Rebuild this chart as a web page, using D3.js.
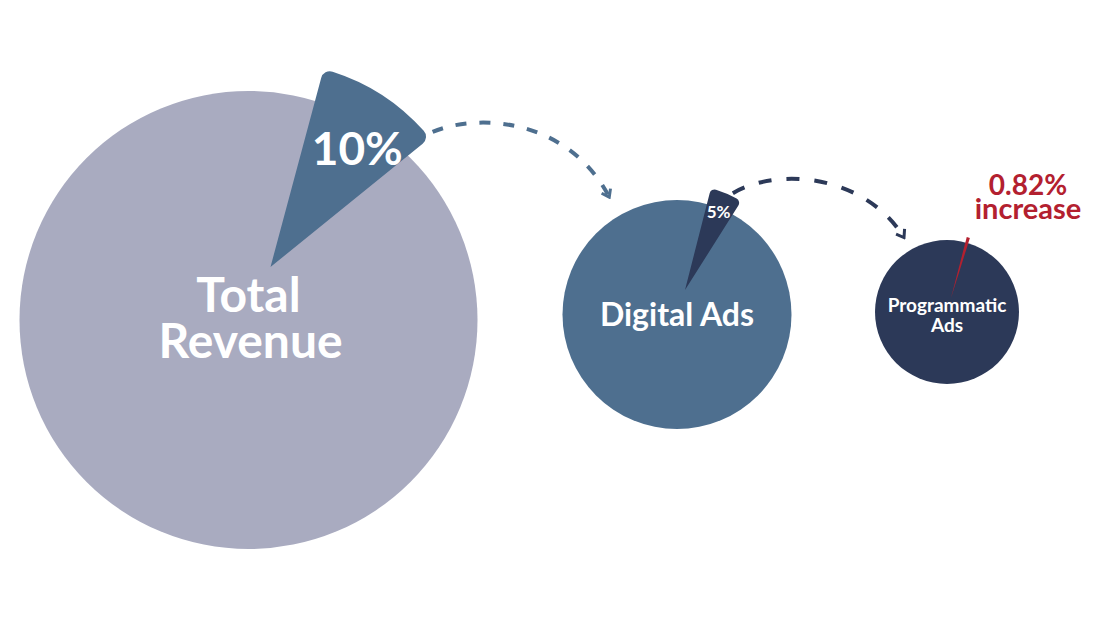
<!DOCTYPE html>
<html>
<head>
<meta charset="utf-8">
<script src="https://cdn.jsdelivr.net/npm/d3@7"></script>
<style>
  body { margin: 0; background: #fff; }
  text { font-family: Lato, "Open Sans", sans-serif; font-weight: 700; }
</style>
</head>
<body>
<div class="chart"></div>
<script>
// data
var levels = ["Total Revenue", "Digital Ads", "Programmatic Ads"]
var levelLines = [["Total", "Revenue"], ["Digital Ads"], ["Programmatic", "Ads"]]
var shareValues = [10, 5, 0.82]
var shareLabels = ["10%", "5%", ""]
var noteLines = ["0.82%", "increase"]

// layout (not data)
var W = 1097, H = 617
var layout = [
  {cx: 248.5, cy: 320, r: 229, sliceR: 205, tip: [22, -53], start: 15, corner: 9,
   font: 48, lineH: 46, base: -8, labelFont: 46, labelPos: 0.72, labelTurn: 3,
   arrowA: 50.2, arrowR: 211, lift: [20, 12]},
  {cx: 677, cy: 314.5, r: 114.5, sliceR: 105, tip: [8, -24.5], start: 14.3, corner: 5,
   font: 32, lineH: 0, base: 11.5, labelFont: 17, labelPos: 0.81, labelTurn: 0,
   arrowA: 26.3, arrowR: 108, lift: [27, 18]},
  {cx: 947, cy: 312, r: 72, sliceR: 63, tip: [4, -14], start: 14.5, corner: 0,
   font: 19, lineH: 20, base: 0, labelFont: 0, labelPos: 0, labelTurn: 0}
]
var circleColors = ["#a9abc0", "#4e6f8f", "#2c3958"]
var sliceColors = ["#4e6f8f", "#2c3958", "#b3202f"]
var rad = function(deg) { return deg * Math.PI / 180 }

var svg = d3.select('.chart')
  .append('svg')
  .attr('width', W)
  .attr('height', H)
  .style('background', '#fff')

var defs = svg.append('defs')
sliceColors.slice(0, 2).forEach(function(c, i) {
  defs.append('marker')
    .attr('id', 'head' + i)
    .attr('markerUnits', 'userSpaceOnUse')
    .attr('viewBox', '-10 -7 12 14')
    .attr('markerWidth', 12)
    .attr('markerHeight', 14)
    .attr('orient', 'auto')
    .append('path')
    .attr('d', 'M-7,-5 L0,0 L-7,5')
    .attr('fill', 'none')
    .attr('stroke', c)
    .attr('stroke-width', 3)
})

var pies = shareValues.map(function(v, i) {
  var a0 = rad(layout[i].start)
  return d3.pie().sort(null).value(function(d) { return d })
    .startAngle(a0).endAngle(a0 + 2 * Math.PI)([v, 100 - v])
})

// circles
svg.selectAll('circle.level')
  .data(levels)
  .enter()
  .append('circle')
  .attr('class', 'level')
  .attr('cx', function(d, i) { return layout[i].cx })
  .attr('cy', function(d, i) { return layout[i].cy })
  .attr('r', function(d, i) { return layout[i].r })
  .attr('fill', function(d, i) { return circleColors[i] })

// level names, one text per line
levelLines.forEach(function(lines, i) {
  var L = layout[i]
  lines.forEach(function(s, j) {
    svg.append('text')
      .attr('x', L.cx + (i === 0 && j === 1 ? 2 : 0))
      .attr('y', L.cy + L.base + j * L.lineH)
      .attr('text-anchor', 'middle')
      .attr('fill', '#fff')
      .attr('font-size', L.font)
      .text(s)
  })
})

// exploded slices
var slices = svg.selectAll('g.slice')
  .data(pies.map(function(p) { return p[0] }))
  .enter()
  .append('g')
  .attr('class', 'slice')
  .attr('transform', function(d, i) {
    var L = layout[i]
    return 'translate(' + (L.cx + L.tip[0]) + ',' + (L.cy + L.tip[1]) + ')'
  })

slices.append('path')
  .attr('d', function(d, i) {
    var L = layout[i]
    return d3.arc().innerRadius(0).outerRadius(L.sliceR).cornerRadius(L.corner)(d)
  })
  .attr('fill', function(d, i) { return sliceColors[i] })

slices.append('text')
  .attr('transform', function(d, i) {
    var L = layout[i]
    var a = (d.startAngle + d.endAngle) / 2 + rad(L.labelTurn), rr = L.sliceR * L.labelPos
    return 'translate(' + (rr * Math.sin(a)) + ',' + (-rr * Math.cos(a)) + ')'
  })
  .attr('text-anchor', 'middle')
  .attr('dominant-baseline', 'central')
  .attr('fill', '#fff')
  .attr('font-size', function(d, i) { return layout[i].labelFont })
  .text(function(d, i) { return shareLabels[i] })

// note for last slice
var noteSize = [28, 29], noteY = [195, 218.5]
noteLines.forEach(function(s, j) {
  svg.append('text')
    .attr('x', 1028)
    .attr('y', noteY[j])
    .attr('text-anchor', 'middle')
    .attr('fill', sliceColors[2])
    .attr('font-size', noteSize[j])
    .text(s)
})

// dashed arrows from slice to next circle
var dashes = ['11 13', '13 15']
for (var i = 0; i < 2; i++) {
  var L = layout[i], N = layout[i + 1]
  var sx = L.cx + L.tip[0] + L.arrowR * Math.sin(rad(L.arrowA))
  var sy = L.cy + L.tip[1] - L.arrowR * Math.cos(rad(L.arrowA))
  var ea = rad(-30), er = N.r + (i === 0 ? 21 : 14)
  var ex = N.cx + er * Math.sin(ea), ey = N.cy - er * Math.cos(ea)
  var dx = ex - sx
  var p = d3.path()
  p.moveTo(sx, sy)
  p.bezierCurveTo(sx + 0.27 * dx, sy - L.lift[0], sx + 0.775 * dx, sy - L.lift[1], ex, ey)
  svg.append('path')
    .attr('d', p.toString())
    .attr('fill', 'none')
    .attr('stroke', sliceColors[i])
    .attr('stroke-width', 4)
    .attr('stroke-dasharray', dashes[i])
    .attr('marker-end', 'url(#head' + i + ')')
}
</script>
</body>
</html>
